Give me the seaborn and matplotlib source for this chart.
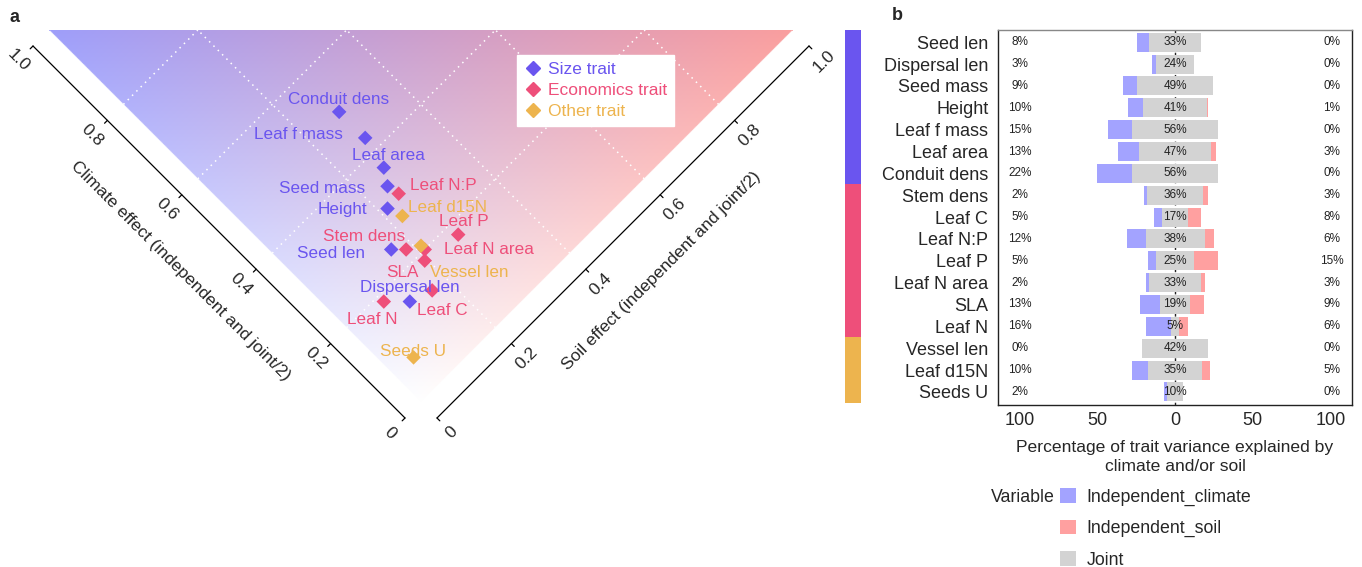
import numpy as np
import pandas as pd
import matplotlib
matplotlib.use("Agg")
import matplotlib.pyplot as plt
from matplotlib.lines import Line2D
from matplotlib.patches import Patch
import seaborn as sns

# ---- data (panel b order, top to bottom) ----
traits = ["Seed len", "Dispersal len", "Seed mass", "Height", "Leaf f mass", "Leaf area",
          "Conduit dens", "Stem dens", "Leaf C", "Leaf N:P", "Leaf P", "Leaf N area",
          "SLA", "Leaf N", "Vessel len", "Leaf d15N", "Seeds U"]
climate = [8, 3, 9, 10, 15, 13, 22, 2, 5, 12, 5, 2, 13, 16, 0, 10, 2]
joint = [33, 24, 49, 41, 56, 47, 56, 36, 17, 38, 25, 33, 19, 5, 42, 35, 10]
soil = [0, 0, 0, 1, 0, 3, 0, 3, 8, 6, 15, 3, 9, 6, 0, 5, 0]
groups = ["Size trait"] * 7 + ["Economics trait"] * 7 + ["Other trait"] * 3
group_names = ["Size trait", "Economics trait", "Other trait"]

# label offsets (pixels, y down) from the diamonds in panel a
label_off = {
    "Conduit dens": (-1, -12), "Leaf f mass": (-67, -3), "Leaf area": (5, -12),
    "Seed mass": (-65, 2), "Height": (-45, 1), "Seed len": (-60, 4),
    "Stem dens": (-61, -13), "SLA": (-4, 23), "Dispersal len": (0, -14),
    "Leaf N": (-12, 18), "Seeds U": (-1, -6), "Leaf N:P": (45, -8),
    "Leaf d15N": (45, -8), "Leaf P": (6, -13), "Leaf N area": (64, -11),
    "Vessel len": (48, 27), "Leaf C": (10, 20),
}

palette = {"Size trait": "#6A55EF", "Economics trait": "#EE4F7A", "Other trait": "#EDB44E"}
col_clim, col_soil, col_joint = "#A3A3FF", "#FFA0A0", "#D3D3D3"

sns.set_style("white")
plt.rcParams["font.family"] = ["Liberation Sans", "DejaVu Sans"]

df = pd.DataFrame({"trait": traits, "climate": climate, "joint": joint,
                   "soil": soil, "group": groups})
df["c_eff"] = df["climate"] / 100 + df["joint"] / 200
df["s_eff"] = df["soil"] / 100 + df["joint"] / 200
df["u"] = df["s_eff"] - df["c_eff"]
df["v"] = df["s_eff"] + df["c_eff"]

W, H = 1362, 567
fig = plt.figure(figsize=(W / 100, H / 100), dpi=100)

# ---------------- panel a : rotated climate/soil triangle ----------------
SC = 372.0  # pixels per unit
OX, OY = 421.0, 402.0
axw = 900
ax = fig.add_axes([0, 0, axw / W, 1])
ax.set_xlim(-OX / SC, (axw - OX) / SC)
ax.set_ylim((OY - H) / SC, OY / SC)
ax.axis("off")

# gradient background
U, V = np.meshgrid(np.linspace(-1, 1, 900), np.linspace(0, 1, 450))
C = (V - U) / 2
S = (V + U) / 2
img = np.zeros(U.shape + (4,))
img[..., 0] = 1 - 0.38 * C - 0.02 * S
img[..., 1] = 1 - 0.38 * (C + S)
img[..., 2] = 1 - 0.02 * C - 0.38 * S
img[..., 3] = ((C >= 0) & (S >= 0)).astype(float)
ax.imshow(np.clip(img, 0, 1), extent=[-1, 1, 0, 1], origin="lower",
          aspect="auto", interpolation="bilinear", zorder=0)

# dotted white grid
for g in [0.2, 0.4, 0.6, 0.8]:
    ax.plot([-g, 1 - 2 * g], [g, 1], color="white", lw=1.1, ls=(0, (1, 3)), zorder=1)
    ax.plot([g, 2 * g - 1], [g, 1], color="white", lw=1.1, ls=(0, (1, 3)), zorder=1)

# axes along the two lower edges
d = 0.043
tl = 4 / SC / np.sqrt(2)
ticks = [0, 0.2, 0.4, 0.6, 0.8, 1.0]
ax.plot([-d, -1 - d], [-d, 1 - d], color="black", lw=0.9)
ax.plot([d, 1 + d], [-d, 1 - d], color="black", lw=0.9)
lo = 21 / SC / np.sqrt(2)
for t in ticks:
    lab = "0" if t == 0 else f"{t:.1f}"
    x0, y0 = -t - d, t - d
    ax.plot([x0, x0 - tl], [y0, y0 - tl], color="black", lw=0.9)
    ax.text(x0 - lo, y0 - lo, lab, rotation=-45, ha="center", va="center", fontsize=12.5)
    x0, y0 = t + d, t - d
    ax.plot([x0, x0 + tl], [y0, y0 - tl], color="black", lw=0.9)
    ax.text(x0 + lo, y0 - lo, lab, rotation=45, ha="center", va="center", fontsize=12.5)
to = 55 / SC / np.sqrt(2)
ax.text(-0.5 - d - to, 0.5 - d - to, "Climate effect (independent and joint/2)",
        rotation=-45, ha="center", va="center", fontsize=12.5)
ax.text(0.5 + d + to, 0.5 - d - to, "Soil effect (independent and joint/2)",
        rotation=45, ha="center", va="center", fontsize=12.5)

sns.scatterplot(data=df, x="u", y="v", hue="group", palette=palette, marker="D",
                s=55, linewidth=0, legend=False, ax=ax, zorder=3)
for _, r in df.iterrows():
    dx, dy = label_off[r["trait"]]
    ax.annotate(r["trait"], (r["u"], r["v"]), xytext=(dx * 0.72, -dy * 0.72),
                textcoords="offset points", ha="center", va="center",
                color=palette[r["group"]], fontsize=12.3, zorder=4)

handles = [Line2D([], [], marker="D", ls="none", color=palette[g], markersize=7)
           for g in group_names]
leg = ax.legend(handles, group_names, loc="upper left",
                bbox_to_anchor=(517 / W, 1 - 55 / H), bbox_transform=fig.transFigure,
                frameon=True, fancybox=False, framealpha=1, edgecolor="white",
                fontsize=12.5, labelcolor=[palette[g] for g in group_names],
                handletextpad=0.4, labelspacing=0.33, borderpad=0.4, handlelength=1.0,
                borderaxespad=0)

fig.text(15 / W, 1 - 17 / H, "a", fontsize=13, fontweight="bold", va="center", ha="center")
fig.text(897 / W, 1 - 16 / H, "b", fontsize=13, fontweight="bold", va="center", ha="center")

# trait-group strip
axs = fig.add_axes([845 / W, 1 - 403 / H, 16 / W, 373 / H])
bottom = 0
for g in group_names:
    n = groups.count(g)
    axs.bar(0, n, bottom=bottom, width=1, color=palette[g], linewidth=0)
    bottom += n
axs.set_xlim(-0.5, 0.5)
axs.set_ylim(len(traits), 0)
axs.axis("off")

# ---------------- panel b : diverging bars ----------------
axb = fig.add_axes([998 / W, 1 - 405 / H, (1352 - 998) / W, (405 - 30) / H])
df["left_end"] = -(df["climate"] + df["joint"] / 2)
df["right_end"] = df["soil"] + df["joint"] / 2
df["half_l"] = -df["joint"] / 2
df["half_r"] = df["joint"] / 2
bw = 0.87
axb.axvline(0, color="#222222", lw=1, ls=(0, (2, 2)), zorder=0)
for col, c in [("left_end", col_clim), ("right_end", col_soil),
               ("half_l", col_joint), ("half_r", col_joint)]:
    sns.barplot(data=df, y="trait", x=col, order=traits, orient="h", color=c,
                saturation=1, width=bw, linewidth=0, errorbar=None, ax=axb)
for i, r in df.iterrows():
    axb.text(-100, i, f"{r['climate']}%", ha="center", va="center", fontsize=8.5, color="#222222")
    axb.text(0, i, f"{r['joint']}%", ha="center", va="center", fontsize=8.5, color="#222222")
    axb.text(101, i, f"{r['soil']}%", ha="center", va="center", fontsize=8.5, color="#222222")
axb.set_xlim(-114, 114)
axb.set_ylim(16.6, -0.56)
axb.set_xticks([-100, -50, 0, 50, 100])
axb.set_xticklabels(["100", "50", "0", "50", "100"])
axb.tick_params(axis="x", length=0, labelsize=13, pad=5)
axb.tick_params(axis="y", length=0, labelsize=13, pad=7)
axb.set_ylabel("")
axb.set_xlabel("Percentage of trait variance explained by\nclimate and/or soil",
               fontsize=12.6, labelpad=8, linespacing=1.35)
for sp in axb.spines.values():
    sp.set_visible(True)
    sp.set_color("#222222")
    sp.set_linewidth(1)
axb.spines["top"].set_color("#888888")

# bottom legend
fig.text(1055 / W, 1 - 497 / H, "Variable", ha="right", va="center", fontsize=12.8)
lh = [Patch(facecolor=c, edgecolor="none") for c in [col_clim, col_soil, col_joint]]
fig.legend(lh, ["Independent_climate", "Independent_soil", "Joint"], loc="upper left",
           bbox_to_anchor=(1060 / W, 1 - 488 / H), frameon=False, fontsize=12.8,
           handlelength=0.9, handleheight=0.9, handletextpad=0.6, labelspacing=0.78,
           borderpad=0, borderaxespad=0)

fig.savefig("out.png", dpi=100)
